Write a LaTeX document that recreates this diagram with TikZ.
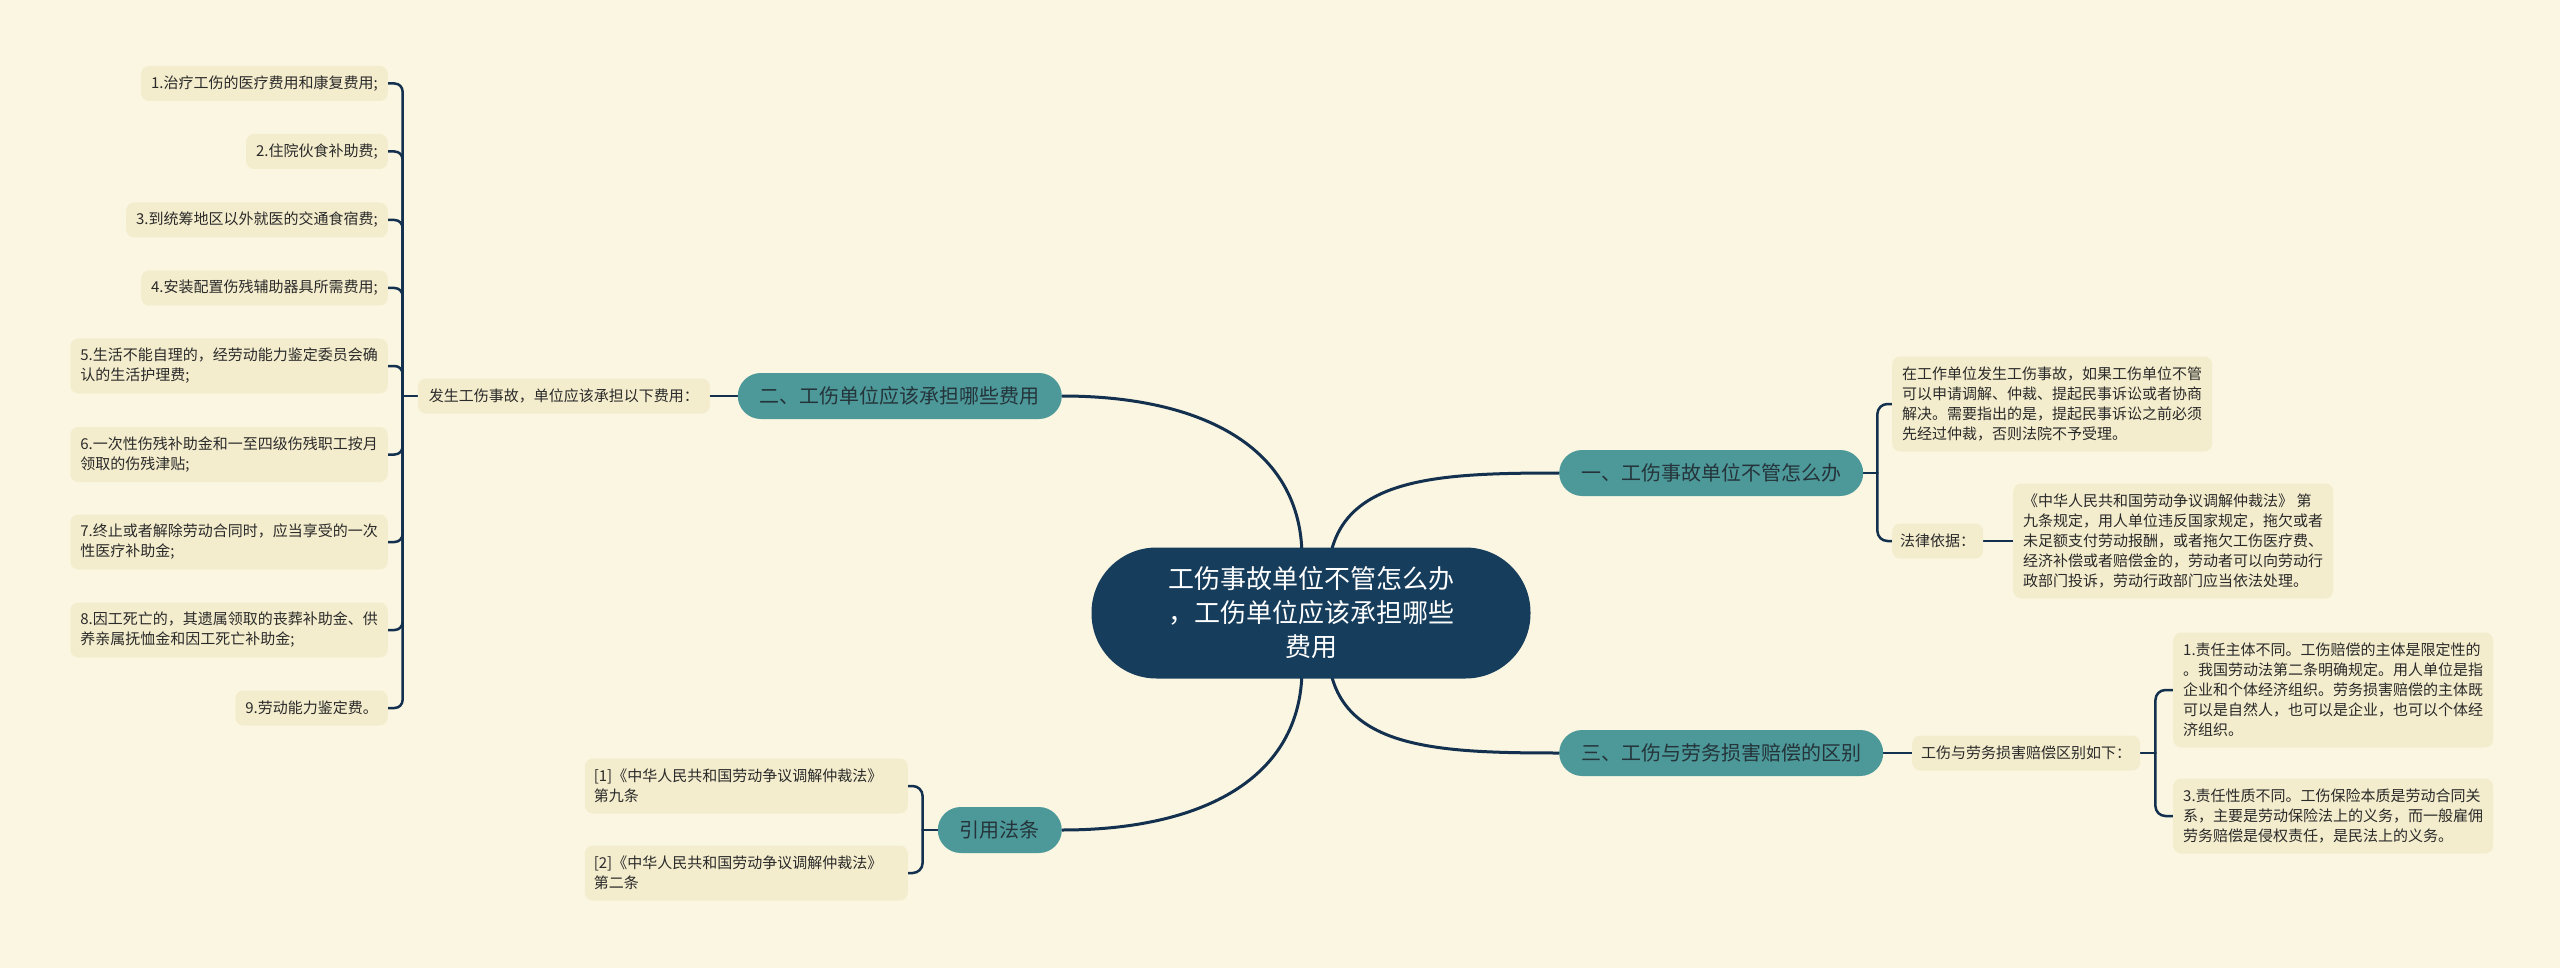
\documentclass[tikz,border=0pt]{standalone}
\usepackage{fontspec}
\setmainfont{Noto Sans CJK SC}
\usetikzlibrary{calc}
\definecolor{bgc}{HTML}{FAF6E2}
\definecolor{leafc}{HTML}{F4EDCD}
\definecolor{tealc}{HTML}{4D9899}
\definecolor{rootc}{HTML}{163D5C}
\definecolor{linec}{HTML}{13304F}
\definecolor{txtc}{HTML}{2A2A2A}
\definecolor{btxt}{HTML}{24343A}
\pgfdeclarelayer{bg}
\pgfdeclarelayer{lines}
\pgfsetlayers{bg,lines,main}
\tikzset{
 leaf/.style={fill=leafc, rounded corners=8, inner xsep=10, inner ysep=3, align=left, text=txtc, font=\fontsize{15}{20}\selectfont},
 nl/.style={minimum height={15+20*#1}},
 branch/.style={fill=tealc, rounded corners=23, minimum height=46, inner xsep=22, inner ysep=0, text=btxt, font=\fontsize{20}{24}\selectfont},
 rootnode/.style={fill=rootc, rounded corners=65, minimum width=439, minimum height=131, text=white, align=center, font=\fontsize{26}{34}\selectfont},
 br/.style={draw=linec, line width=2.5, line cap=round},
 mc/.style={draw=linec, line width=3, line cap=round},
}
\begin{document}
\begin{tikzpicture}[x=1pt,y=-1pt]
\useasboundingbox (0,0) rectangle (2560,968);
\begin{pgfonlayer}{bg}
\fill[bgc] (0,0) rectangle (2560,968);
\end{pgfonlayer}

% root and branches
\node[rootnode] (root) at (1311,613) {工伤事故单位不管怎么办\\，工伤单位应该承担哪些\\费用};
\node[branch, anchor=east] (b2) at (1062,396) {二、工伤单位应该承担哪些费用};
\node[branch, anchor=west] (b1) at (1559,473) {一、工伤事故单位不管怎么办};
\node[branch, anchor=west] (b3) at (1559,753) {三、工伤与劳务损害赔偿的区别};
\node[branch, anchor=east] (b4) at (1062,830) {引用法条};

% left side
\node[leaf, nl=1, anchor=east, inner xsep=11] (p2) at (710,396) {发生工伤事故，单位应该承担以下费用：};
\node[leaf, nl=1, anchor=east] (l1) at (388,83.5) {1.治疗工伤的医疗费用和康复费用;};
\node[leaf, nl=1, anchor=east] (l2) at (388,151.5) {2.住院伙食补助费;};
\node[leaf, nl=1, anchor=east] (l3) at (388,220) {3.到统筹地区以外就医的交通食宿费;};
\node[leaf, nl=1, anchor=east] (l4) at (388,288) {4.安装配置伤残辅助器具所需费用;};
\node[leaf, nl=2, anchor=east] (l5) at (388,366) {5.生活不能自理的，经劳动能力鉴定委员会确\\认的生活护理费;};
\node[leaf, nl=2, anchor=east] (l6) at (388,454.5) {6.一次性伤残补助金和一至四级伤残职工按月\\领取的伤残津贴;};
\node[leaf, nl=2, anchor=east] (l7) at (388,542) {7.终止或者解除劳动合同时，应当享受的一次\\性医疗补助金;};
\node[leaf, nl=2, anchor=east] (l8) at (388,630) {8.因工死亡的，其遗属领取的丧葬补助金、供\\养亲属抚恤金和因工死亡补助金;};
\node[leaf, nl=1, anchor=east] (l9) at (388,708) {9.劳动能力鉴定费。};

% citations
\node[leaf, nl=2, anchor=east, text width=305, inner xsep=9] (r1) at (908,786) {[1]《中华人民共和国劳动争议调解仲裁法》\\第九条};
\node[leaf, nl=2, anchor=east, text width=305, inner xsep=9] (r2) at (908,873) {[2]《中华人民共和国劳动争议调解仲裁法》\\第二条};

% right side, branch one
\node[leaf, nl=4, anchor=west] (a1) at (1892,404) {在工作单位发生工伤事故，如果工伤单位不管\\可以申请调解、仲裁、提起民事诉讼或者协商\\解决。需要指出的是，提起民事诉讼之前必须\\先经过仲裁，否则法院不予受理。};
\node[leaf, nl=1, anchor=west, inner xsep=8] (a2) at (1892,541) {法律依据：};
\node[leaf, nl=5, anchor=west] (a3) at (2013,541) {《中华人民共和国劳动争议调解仲裁法》 第\\九条规定，用人单位违反国家规定，拖欠或者\\未足额支付劳动报酬，或者拖欠工伤医疗费、\\经济补偿或者赔偿金的，劳动者可以向劳动行\\政部门投诉，劳动行政部门应当依法处理。};

% right side, branch three
\node[leaf, nl=1, anchor=west, inner xsep=9] (p3) at (1912,753) {工伤与劳务损害赔偿区别如下：};
\node[leaf, nl=5, anchor=west] (c1) at (2173,690) {1.责任主体不同。工伤赔偿的主体是限定性的\\。我国劳动法第二条明确规定。用人单位是指\\企业和个体经济组织。劳务损害赔偿的主体既\\可以是自然人，也可以是企业，也可以个体经\\济组织。};
\node[leaf, nl=3, anchor=west] (c3) at (2173,816) {3.责任性质不同。工伤保险本质是劳动合同关\\系，主要是劳动保险法上的义务，而一般雇佣\\劳务赔偿是侵权责任，是民法上的义务。};

\begin{pgfonlayer}{lines}
% main curves
\draw[mc] (b2.east) .. controls +(140,0) and +(0,-110) .. ($(root.north)+(-9,10)$);
\draw[mc] (b4.east) .. controls +(140,0) and +(0,110) .. ($(root.south)+(-9,-10)$);
\draw[mc] ($(root.north)+(19,10)$) .. controls +(15,-80) and +(-120,0) .. (b1.west);
\draw[mc] ($(root.south)+(19,-10)$) .. controls +(15,80) and +(-120,0) .. (b3.west);
% left bracket
\draw[br] (b2.west) -- (p2.east);
\draw[br] (p2.west) -- ++(-15,0) coordinate (j2);
\foreach \n in {l1,l2,l3,l4,l5,l6,l7,l8,l9}
  \draw[br, rounded corners=8] (j2) |- (\n.east);
% citation bracket
\draw[br] (b4.west) -- ++(-15,0) coordinate (j4);
\draw[br, rounded corners=10] (j4) |- (r1.east);
\draw[br, rounded corners=10] (j4) |- (r2.east);
% branch one
\draw[br] (b1.east) -- ++(14,0) coordinate (j1);
\draw[br, rounded corners=10] (j1) |- (a1.west);
\draw[br, rounded corners=10] (j1) |- (a2.west);
\draw[br] (a2.east) -- (a3.west);
% branch three
\draw[br] (b3.east) -- (p3.west);
\draw[br] (p3.east) -- ++(15,0) coordinate (j3);
\draw[br, rounded corners=10] (j3) |- (c1.west);
\draw[br, rounded corners=10] (j3) |- (c3.west);
\end{pgfonlayer}
\end{tikzpicture}
\end{document}
